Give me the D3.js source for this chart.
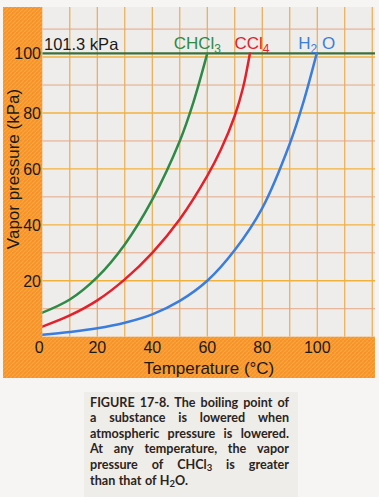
<!DOCTYPE html>
<html>
<head>
<meta charset="utf-8">
<script src="https://cdn.jsdelivr.net/npm/d3@7"></script>
<style>
  html, body { margin: 0; padding: 0; background: #f6f5f3; }
  svg { display: block; }
</style>
</head>
<body>
<svg id="chart" width="379" height="497"></svg>
<script>
// ---------- DATA ----------
const chcl3Temps = [0, 10, 20, 30, 40, 50, 55, 60];
const chcl3Press = [8.6, 13.3, 21.3, 33, 49, 70, 84, 101.3];

const ccl4Temps = [0, 10, 20, 30, 40, 50, 60, 65, 70, 73, 75.5];
const ccl4Press = [3.6, 7.6, 13, 20.5, 30, 42, 57.5, 67, 79, 89, 101.3];

const h2oTemps = [0, 10, 20, 30, 40, 50, 60, 70, 80, 90, 95, 99.8];
const h2oPress = [0.7, 1.7, 3.0, 5.0, 8.0, 12.8, 20, 31, 46, 69, 84, 101.3];

const seriesNames = ["CHCl_3", "CCl_4", "H_2 O"];
const atmPressure = 101.3;
const atmLabel = "101.3 kPa";

const xTickValues = [0, 20, 40, 60, 80, 100];
const yTickValues = [20, 40, 60, 80, 100];
const xGridValues = [10, 20, 30, 40, 50, 60, 70, 80, 90, 100, 110, 120];
const yGridValues = [10, 20, 30, 40, 50, 60, 70, 80, 90, 100, 110];

const xTitle = "Temperature (°C)";
const yTitle = "Vapor pressure (kPa)";

const captionLines = [
  "FIGURE 17-8. The boiling point of",
  "a substance is lowered when",
  "atmospheric pressure is lowered.",
  "At any temperature, the vapor",
  "pressure of CHCl_3 is greater",
  "than that of H_2O."
];

// ---------- LAYOUT ----------
const svg = d3.select("#chart");
const plot = { left: 42.3, right: 375, top: 7, bottom: 336.7 };

const x = d3.scaleLinear().domain([0, 121]).range([plot.left, plot.right]);
const y = d3.scaleLinear().domain([0, 117.9]).range([plot.bottom, plot.top]);

const defs = svg.append("defs");
const pat = defs.append("pattern")
  .attr("id", "orangeTex").attr("patternUnits", "userSpaceOnUse")
  .attr("width", 4).attr("height", 4);
pat.append("rect").attr("width", 4).attr("height", 4).attr("fill", "#f7952a");
pat.append("path").attr("d", "M0,4 L4,0").attr("stroke", "#fcae4c").attr("stroke-width", 1.1).attr("opacity", 0.7);
pat.append("circle").attr("cx", 1).attr("cy", 1).attr("r", 0.6).attr("fill", "#e9801a").attr("opacity", 0.6);

defs.append("clipPath").attr("id", "plotClip")
  .append("rect").attr("x", plot.left).attr("y", plot.top)
  .attr("width", plot.right - plot.left).attr("height", plot.bottom - plot.top);

svg.append("rect").attr("x", 3).attr("y", 7).attr("width", 372).attr("height", 371)
  .attr("fill", "url(#orangeTex)");

svg.append("rect").attr("x", plot.left).attr("y", plot.top)
  .attr("width", plot.right - plot.left).attr("height", plot.bottom - plot.top)
  .attr("fill", "#eeedeb");

const g = svg.append("g").attr("clip-path", "url(#plotClip)");

g.selectAll("line.vgrid").data(xGridValues).join("line")
  .attr("class", "vgrid")
  .attr("x1", d => x(d)).attr("x2", d => x(d))
  .attr("y1", plot.top).attr("y2", plot.bottom)
  .attr("stroke", "#eaa640").attr("stroke-width", 1.1);

g.selectAll("line.hgrid").data(yGridValues).join("line")
  .attr("class", "hgrid")
  .attr("x1", plot.left).attr("x2", plot.right)
  .attr("y1", d => y(d)).attr("y2", d => y(d))
  .attr("stroke", d => d % 20 === 0 ? "#f1b23c" : "#e4a786")
  .attr("stroke-width", d => d % 20 === 0 ? 1.4 : 1);

g.append("line")
  .attr("x1", plot.left).attr("x2", plot.right)
  .attr("y1", y(atmPressure)).attr("y2", y(atmPressure))
  .attr("stroke", "#3d6f3a").attr("stroke-width", 2.2);

const series = [
  { name: seriesNames[0], t: chcl3Temps, p: chcl3Press, color: "#2e8a46", dx: -10 },
  { name: seriesNames[1], t: ccl4Temps, p: ccl4Press, color: "#e3202b", dx: 2 },
  { name: seriesNames[2], t: h2oTemps, p: h2oPress, color: "#3b7ddc", dx: 0 }
];

const line = d3.line().x(d => x(d[0])).y(d => y(d[1])).curve(d3.curveCatmullRom.alpha(0.5));

g.selectAll("path.curve").data(series).join("path")
  .attr("class", "curve")
  .attr("d", s => line(d3.zip(s.t, s.p)))
  .attr("fill", "none").attr("stroke", s => s.color)
  .attr("stroke-width", 2.5).attr("stroke-linecap", "round");

// text with subscripts marked "_d"
function addRich(sel, str, subSize, shift) {
  const parts = str.split(/(_\d)/).filter(p => p.length);
  let pending = 0;
  parts.forEach(p => {
    if (p[0] === "_") {
      sel.append("tspan").attr("dy", shift).attr("font-size", subSize).text(p[1]);
      pending = -shift;
    } else {
      const ts = sel.append("tspan").text(p);
      if (pending) { ts.attr("dy", pending); pending = 0; }
    }
  });
}

const sans = "'Liberation Sans', Arial, Helvetica, sans-serif";

series.forEach(s => {
  const tEnd = s.t[s.t.length - 1];
  const t = svg.append("text")
    .attr("x", x(tEnd) + s.dx).attr("y", 48.5)
    .attr("text-anchor", "middle")
    .attr("font-family", sans).attr("font-size", 17)
    .attr("fill", s.color);
  addRich(t, s.name, 12, 4);
});

svg.append("text").attr("x", 44).attr("y", 50)
  .attr("font-family", sans).attr("font-size", 16.5).attr("fill", "#1a1a1a")
  .text(atmLabel);

svg.selectAll("text.xtick").data(xTickValues).join("text")
  .attr("class", "xtick")
  .attr("x", d => x(d) - (d === 0 ? 3 : 0)).attr("y", 352.5)
  .attr("text-anchor", "middle")
  .attr("font-family", sans).attr("font-size", 16).attr("fill", "#1a1a1a")
  .text(d => d);

svg.selectAll("text.ytick").data(yTickValues).join("text")
  .attr("class", "ytick")
  .attr("x", 41).attr("y", d => y(d) + 6 - (d === 100 ? 4 : 0))
  .attr("text-anchor", "end")
  .attr("font-family", sans).attr("font-size", 16).attr("fill", "#1a1a1a")
  .text(d => d);

svg.append("text").attr("x", 209).attr("y", 374)
  .attr("text-anchor", "middle")
  .attr("font-family", sans).attr("font-size", 17).attr("fill", "#1a1a1a")
  .text(xTitle);

svg.append("text")
  .attr("transform", "translate(19,169) rotate(-90)")
  .attr("text-anchor", "middle")
  .attr("font-family", sans).attr("font-size", 17).attr("fill", "#1a1a1a")
  .text(yTitle);

// ---------- CAPTION ----------
svg.append("rect").attr("x", 84).attr("y", 392).attr("width", 214).attr("height", 105)
  .attr("fill", "#efedea");

const capLeft = 90, capRight = 289, capTop = 406.5, capLH = 15.6;
const capFont = "Lato, 'Open Sans', sans-serif";
const cap = svg.append("g").attr("font-family", capFont).attr("font-weight", 700)
  .attr("font-size", 12.6).attr("fill", "#2b2420");

captionLines.forEach((ln, i) => {
  const words = ln.split(" ");
  const yy = capTop + i * capLH;
  const els = words.map(w => {
    const t = cap.append("text").attr("x", 0).attr("y", yy);
    addRich(t, w, 9.5, 2.5);
    return t;
  });
  const widths = els.map(e => e.node().getComputedTextLength());
  const total = d3.sum(widths);
  const last = i === captionLines.length - 1;
  const gap = last ? 3.4 : (capRight - capLeft - total) / (words.length - 1);
  let cx = capLeft;
  els.forEach((e, k) => { e.attr("x", cx); cx += widths[k] + gap; });
});
</script>
</body>
</html>
